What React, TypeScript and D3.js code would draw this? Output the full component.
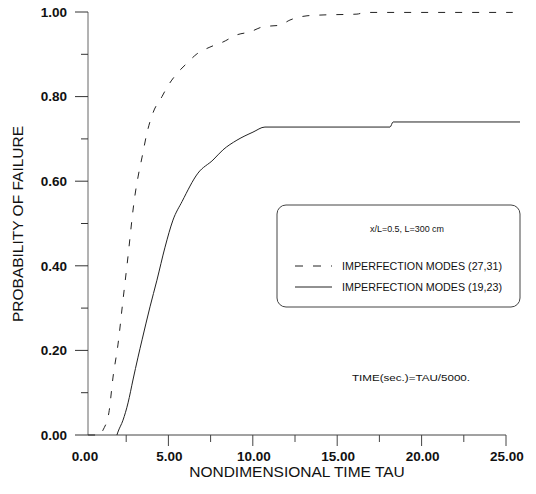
import React from "react";
import * as d3 from "d3";

// ---- data ----
const tauDashed = [0.24, 0.95, 1.13, 1.48, 1.72, 2.01, 2.31, 2.55, 3.02, 3.2, 3.44, 3.73, 4.09, 4.62, 4.92, 5.39, 6.1, 6.69, 7.46, 8.23, 9.06, 9.83, 10.6, 11.61, 12.2, 13.21, 14.16, 16.17, 16.65, 25.4];
const probDashed = [0, 0, 0.012, 0.054, 0.137, 0.213, 0.319, 0.402, 0.567, 0.61, 0.657, 0.714, 0.762, 0.8, 0.822, 0.849, 0.879, 0.901, 0.917, 0.929, 0.946, 0.953, 0.965, 0.969, 0.981, 0.991, 0.993, 0.995, 0.999, 0.999];

const tauSolid = [1.95, 2.01, 2.31, 2.61, 2.9, 3.2, 3.44, 3.91, 4.32, 4.8, 5.27, 5.81, 6.75, 7.64, 8.23, 9.06, 10.01, 10.72, 18.13, 18.31, 25.83];
const probSolid = [0, 0.007, 0.035, 0.076, 0.13, 0.184, 0.225, 0.303, 0.366, 0.444, 0.508, 0.552, 0.619, 0.65, 0.674, 0.697, 0.716, 0.728, 0.728, 0.74, 0.74];

const xMajorTicks = [0, 5, 10, 15, 20, 25];
const xMinorTicks = [2.5, 7.5, 12.5, 17.5, 22.5];
const yMajorTicks = [0, 0.2, 0.4, 0.6, 0.8, 1.0];
const yMinorTicks = [0.1, 0.3, 0.5, 0.7, 0.9];

const legendTitle = "x/L=0.5, L=300 cm";
const seriesNames = ["IMPERFECTION MODES (27,31)", "IMPERFECTION MODES (19,23)"];
const noteText = "TIME(sec.)=TAU/5000.";
const xTitle = "NONDIMENSIONAL TIME TAU";
const yTitle = "PROBABILITY OF FAILURE";

export default function App() {
  const W = 536, H = 494;
  const x = d3.scaleLinear().domain([0, 25]).range([84, 506]);
  const y = d3.scaleLinear().domain([0, 1]).range([435, 12]);
  const axisX = 88;
  const line = d3.line<[number, number]>().x(d => x(d[0])).y(d => y(d[1])).curve(d3.curveMonotoneX);
  const dashedPts = tauDashed.map((t, i) => [t, probDashed[i]] as [number, number]);
  const solidPts = tauSolid.map((t, i) => [t, probSolid[i]] as [number, number]);
  const font = "'Liberation Sans', Arial, sans-serif";
  const ink = "#222";
  return (
    <svg width={W} height={H} style={{ position: "absolute", left: 0, top: 0, background: "#fff" }} fontFamily={font}>
      <rect x={0} y={0} width={W} height={H} fill="#fff" />
      {/* axes */}
      <line x1={axisX} x2={axisX} y1={y(1)} y2={y(0)} stroke="#666" strokeWidth={1} />
      <line x1={axisX} x2={x(25)} y1={y(0)} y2={y(0)} stroke="#444" strokeWidth={1} />
      {yMajorTicks.map(v => (
        <g key={"ym" + v}>
          <line x1={75} x2={axisX} y1={y(v)} y2={y(v)} stroke="#333" strokeWidth={1} />
          <text x={67} y={y(v)} dy="0.35em" textAnchor="end" fontSize={13.5} fontWeight="bold" fill="#111">{v.toFixed(2)}</text>
        </g>
      ))}
      {yMinorTicks.map(v => (
        <line key={"yn" + v} x1={81} x2={axisX} y1={y(v)} y2={y(v)} stroke="#333" strokeWidth={1} />
      ))}
      {xMajorTicks.map(v => (
        <g key={"xm" + v}>
          {v > 0 && <line x1={x(v)} x2={x(v)} y1={y(0)} y2={y(0) + 11} stroke="#444" strokeWidth={1} />}
          <text x={x(v) + 1} y={461} textAnchor="middle" fontSize={13.5} fontWeight="bold" fill="#111">{v.toFixed(2)}</text>
        </g>
      ))}
      {xMinorTicks.map(v => (
        <line key={"xn" + v} x1={x(v)} x2={x(v)} y1={y(0)} y2={y(0) + 7} stroke="#444" strokeWidth={1} />
      ))}
      {/* titles */}
      <text x={297} y={477} textAnchor="middle" fontSize={15.5} fill="#111">{xTitle}</text>
      <text transform={`translate(23,224) rotate(-90)`} textAnchor="middle" fontSize={15.5} fill="#111">{yTitle}</text>
      {/* curves */}
      <path d={line(dashedPts) || ""} fill="none" stroke={ink} strokeWidth={1} strokeDasharray="7,10" />
      <path d={line(solidPts) || ""} fill="none" stroke={ink} strokeWidth={1} />
      {/* legend */}
      <rect x={277} y={205} width={243} height={102} rx={9} ry={9} fill="none" stroke="#444" strokeWidth={1} />
      <text x={407} y={232} textAnchor="middle" fontSize={9.5} fill="#111" textLength={74} lengthAdjust="spacingAndGlyphs">{legendTitle}</text>
      <line x1={295} x2={332} y1={266} y2={266} stroke={ink} strokeWidth={1} strokeDasharray="8,10" />
      <text x={342} y={270} fontSize={10.5} fill="#111" textLength={160} lengthAdjust="spacingAndGlyphs">{seriesNames[0]}</text>
      <line x1={295} x2={332} y1={287} y2={287} stroke={ink} strokeWidth={1} />
      <text x={342} y={291} fontSize={10.5} fill="#111" textLength={160} lengthAdjust="spacingAndGlyphs">{seriesNames[1]}</text>
      {/* note */}
      <text x={352} y={381} fontSize={9.5} fill="#111" textLength={118} lengthAdjust="spacingAndGlyphs">{noteText}</text>
    </svg>
  );
}
